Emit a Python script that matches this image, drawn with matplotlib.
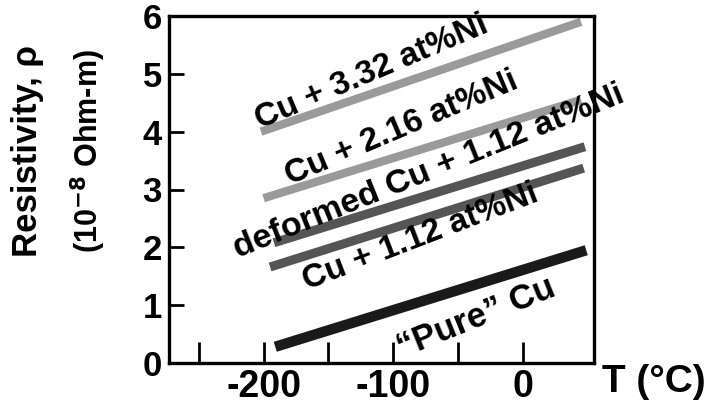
import matplotlib.pyplot as plt

plt.rcParams['font.family'] = ['Liberation Sans', 'DejaVu Sans']
plt.rcParams['font.weight'] = 'bold'
plt.rcParams['axes.unicode_minus'] = False

# band end points: (T start, T end) in deg C, (rho start, rho end)
names = ["Cu + 3.32 at%Ni", "Cu + 2.16 at%Ni", "deformed Cu + 1.12 at%Ni",
         "Cu + 1.12 at%Ni", "\u201cPure\u201d Cu"]
t_start = [-202, -200, -192, -195, -191]
t_end = [45, 45, 48, 47, 49]
rho_start = [4.00, 2.85, 2.08, 1.66, 0.28]
rho_end = [5.90, 4.55, 3.74, 3.37, 1.95]

xticks = [-250, -200, -150, -100, -50, 0]
xlabels = ["", "-200", "", "-100", "", "0"]
yticks = [0, 1, 2, 3, 4, 5, 6]

# label placement (pixels in the original figure)
label_px = [(372, 72), (402, 128), (429, 172), (420, 237), (476, 318)]
label_rot = [23, 23, 22, 21, 22]
label_size = [24, 24, 24.5, 24, 25]

band_color = ["#9a9a9a", "#9a9a9a", "#555555", "#555555", "#1a1a1a"]
band_lw = [6, 6, 6.5, 6.5, 7.5]

W, H = 708, 407
fig = plt.figure(figsize=(W / 100, H / 100), dpi=100)
ax = fig.add_axes([169 / W, 1 - 363 / H, (594 - 169) / W, (363 - 16) / H])

for i in range(len(names)):
    ax.plot([t_start[i], t_end[i]], [rho_start[i], rho_end[i]],
            color=band_color[i], lw=band_lw[i], solid_capstyle="butt")
    fig.text(label_px[i][0] / W, 1 - label_px[i][1] / H, names[i],
             fontsize=label_size[i], fontweight="bold", rotation=label_rot[i],
             ha="center", va="center", rotation_mode="anchor")

ax.set_xlim(-273, 55)
ax.set_ylim(0, 6)
ax.set_xticks(xticks)
ax.set_xticklabels(xlabels)
ax.set_yticks(yticks)
ax.tick_params(axis="x", direction="in", length=15, width=2, labelsize=27, pad=4)
ax.tick_params(axis="y", direction="in", length=11, width=2, labelsize=25, pad=5)
for s in ax.spines.values():
    s.set_linewidth(2.4)

fig.text(28 / W, 1 - 151 / H, "Resistivity, \u03c1", rotation=90,
         fontsize=25, fontweight="bold", ha="center", va="center")
fig.text(88 / W, 1 - 151 / H, r"(10$^{\mathbf{-8}}$ Ohm-m)", rotation=90,
         fontsize=22, fontweight="bold", ha="center", va="center")
fig.text(706 / W, 1 - 382 / H, "T (\u00b0C)", fontsize=28, fontweight="bold",
         ha="right", va="center")

fig.savefig("out.png", dpi=100)
